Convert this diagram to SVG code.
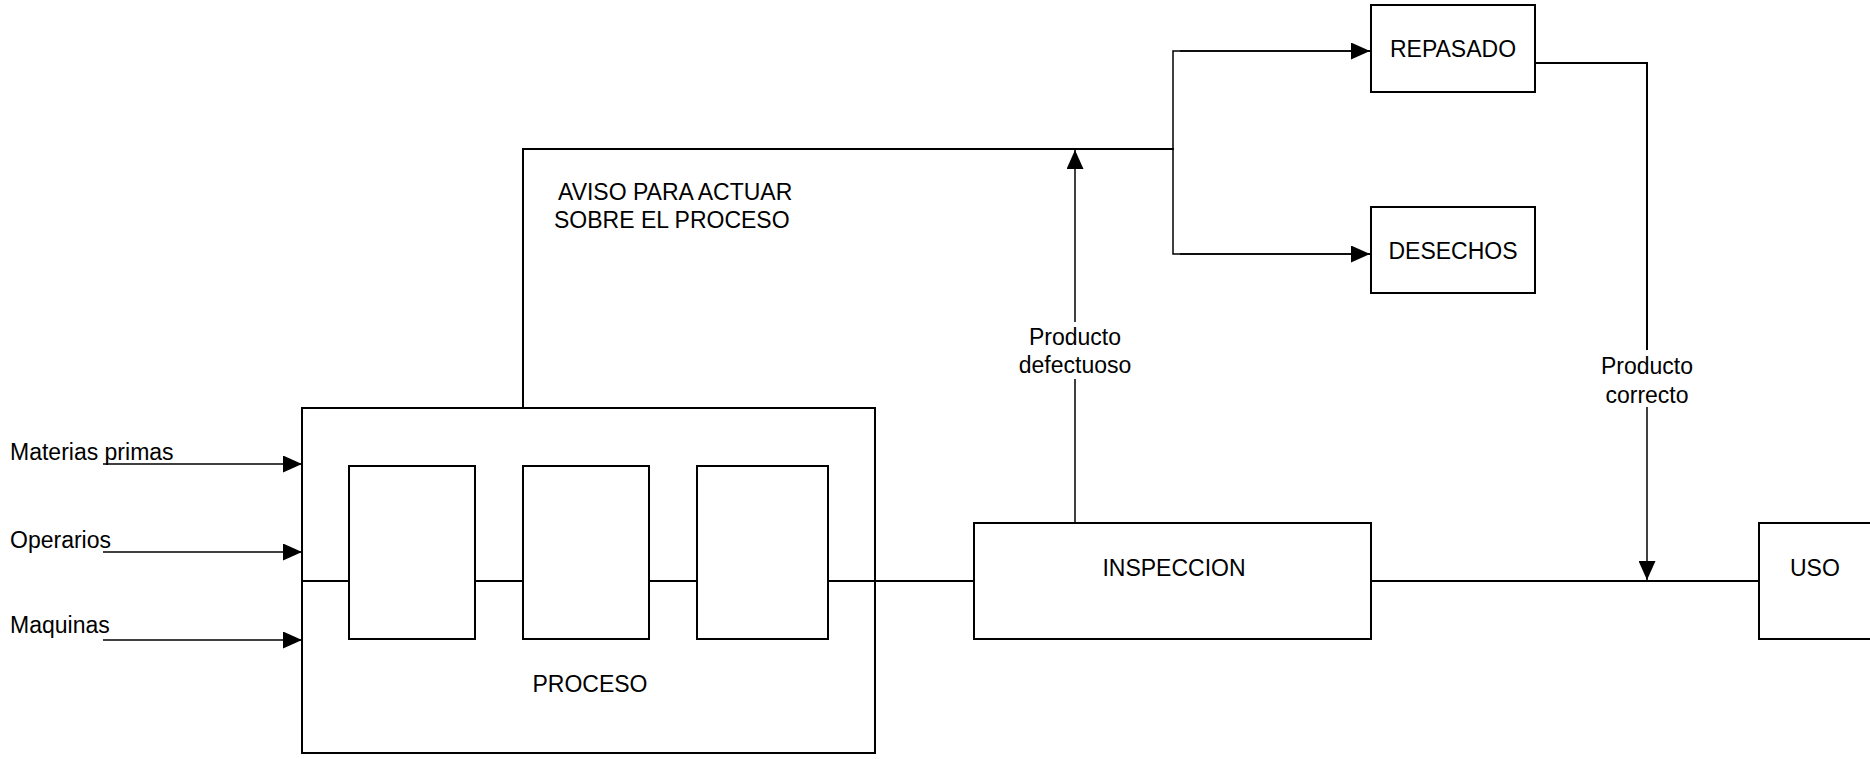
<svg xmlns="http://www.w3.org/2000/svg" width="1870" height="759" viewBox="0 0 1870 759">
<defs>
<style>
.box{fill:#fff;stroke:#000;stroke-width:2}
.ln{fill:none;stroke:#000;stroke-width:2}
.tn{fill:none;stroke:#000;stroke-width:1.5}
text{font-family:"Liberation Sans",Arial,sans-serif;font-size:23px;fill:#000}
.c{text-anchor:middle}
</style>
<marker id="ah" markerUnits="userSpaceOnUse" markerWidth="19" markerHeight="17" refX="19" refY="8.5" orient="auto">
<path d="M0,0 L19,8.5 L0,17 z" fill="#000"/>
</marker>
</defs>
<rect width="1870" height="759" fill="#fff"/>
<g id="connectors">
<line class="tn" x1="103" y1="464" x2="302" y2="464" marker-end="url(#ah)"/>
<line class="tn" x1="103" y1="552" x2="302" y2="552" marker-end="url(#ah)"/>
<line class="tn" x1="103" y1="640" x2="302" y2="640" marker-end="url(#ah)"/>
<polyline class="ln" points="523,408 523,149 1174,149"/>
<line class="tn" x1="1075" y1="522" x2="1075" y2="379"/>
<line class="tn" x1="1075" y1="322" x2="1075" y2="150" marker-end="url(#ah)"/>
<polyline class="tn" points="1370,51 1173,51 1173,254 1370,254"/>
<line class="tn" x1="1180" y1="51" x2="1370" y2="51" marker-end="url(#ah)"/>
<line class="tn" x1="1180" y1="254" x2="1370" y2="254" marker-end="url(#ah)"/>
<polyline class="ln" points="1535,63 1647,63 1647,350"/>
<line class="tn" x1="1647" y1="407" x2="1647" y2="580" marker-end="url(#ah)"/>
<line class="ln" x1="303" y1="581" x2="974" y2="581"/>
<line class="ln" x1="1371" y1="581" x2="1759" y2="581"/>
</g>
<g id="proceso">
<rect class="box" x="302" y="408" width="573" height="345"/>
<line class="ln" x1="302" y1="581" x2="875" y2="581"/>
<text class="c" x="590" y="692">PROCESO</text>
</g>
<g id="paso1"><rect class="box" x="349" y="466" width="126" height="173"/></g>
<g id="paso2"><rect class="box" x="523" y="466" width="126" height="173"/></g>
<g id="paso3"><rect class="box" x="697" y="466" width="131" height="173"/></g>
<g id="inspeccion">
<rect class="box" x="974" y="523" width="397" height="116"/>
<text class="c" x="1174" y="576">INSPECCION</text>
</g>
<g id="uso">
<rect class="box" x="1759" y="523" width="130" height="116"/>
<text x="1790" y="576">USO</text>
</g>
<g id="repasado">
<rect class="box" x="1371" y="5" width="164" height="87"/>
<text class="c" x="1453" y="57">REPASADO</text>
</g>
<g id="desechos">
<rect class="box" x="1371" y="207" width="164" height="86"/>
<text class="c" x="1453" y="259">DESECHOS</text>
</g>
<g id="labels">
<text x="10" y="460">Materias primas</text>
<text x="10" y="548">Operarios</text>
<text x="10" y="633">Maquinas</text>
<text x="558" y="200">AVISO PARA ACTUAR</text>
<text x="554" y="228">SOBRE EL PROCESO</text>
<text class="c" x="1075" y="345">Producto</text>
<text class="c" x="1075" y="373">defectuoso</text>
<text class="c" x="1647" y="374">Producto</text>
<text class="c" x="1647" y="403">correcto</text>
</g>
</svg>
